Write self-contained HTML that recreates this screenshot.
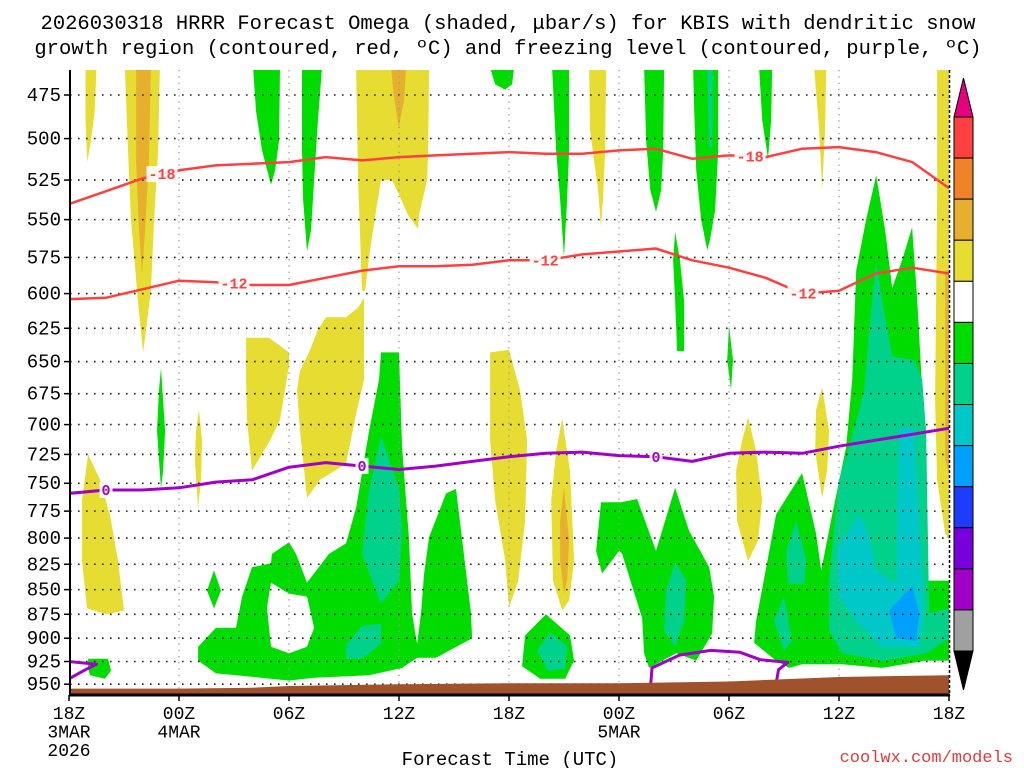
<!DOCTYPE html>
<html><head><meta charset="utf-8"><style>
html,body{margin:0;padding:0;background:#fff;}
svg{display:block;font-family:"Liberation Mono","DejaVu Sans Mono",monospace;}
</style></head><body>
<svg id="chart" width="1024" height="768" viewBox="0 0 1024 768" xmlns="http://www.w3.org/2000/svg">
<defs><clipPath id="plotclip"><rect x="70" y="70" width="879" height="625"/></clipPath></defs>
<text x="508" y="29" font-size="20.5" text-anchor="middle">2026030318 HRRR Forecast Omega (shaded, μbar/s) for KBIS with dendritic snow</text>
<text x="508" y="54" font-size="20.5" text-anchor="middle">growth region (contoured, red, ºC) and freezing level (contoured, purple, ºC)</text>
<g id="shading" clip-path="url(#plotclip)"></g>
<g id="grid"></g>
<g id="contours" clip-path="url(#plotclip)"></g>
<g id="terrain" clip-path="url(#plotclip)"></g>
<g id="axes"></g>
<g id="colorbar"></g>
<text x="510" y="765" font-size="19" text-anchor="middle">Forecast Time (UTC)</text>
<text x="1013" y="762" font-size="17" text-anchor="end" fill="#e03c3c">coolwx.com/models</text>
</svg>
<script>
// ---------- data ----------
const pressureTicks = [475,500,525,550,575,600,625,650,675,700,725,750,775,800,825,850,875,900,925,950];
const hourTicks = [0,6,12,18,24,30,36,42,48];
const hourTickLabels = ["18Z","00Z","06Z","12Z","18Z","00Z","06Z","12Z","18Z"];
const hourTickDates = [["3MAR","2026"],["4MAR"],[],[],[],["5MAR"],[],[],[]];
const lineHours = [0,2,4,6,8,10,12,14,16,18,20,22,24,26,28,30,32,34,36,38,40,42,44,46,48];
const minus18Pressure = [540,532,524,519,516,515,514,511,513,511,510,509,508,509,509,507,506,512,510,511,506,505,508,514,530];
const minus12Pressure = [604,603,597,591,592,594,594,589,584,581,581,580,577,577,573,571,569,577,582,589,600,598,586,582,586];
const zeroPressure = [759,756,756,754,749,747,736,732,735,738,735,731,727,724,723,726,727,731,724,723,724,718,713,708,703];
const minus18Labels = [5.07,37.15];
const minus12Labels = [9.0,25.97,40.04];
const zeroLabels = [2.02,15.98,32.02];
const zeroLoopLeft = [[0,925],[1.5,928],[0.9,934],[0,944]];
const zeroLoopRight = [[31.7,958],[31.8,932],[33.3,918],[35,913],[36.6,915],[37.7,923],[39.2,926],[38.7,934],[38.5,958]];
const surfaceHours = [0,6,10,12,18,24,30,36,42,48];
const surfacePressure = [955,955,954,952,950,949,949,947,942,940];
const cbarLabels = [20,16,12,8,4,-4,-8,-12,-16,-20,-24,-28,-32,-36];
const levelColors = {O:"#e6af2d",Y:"#e6dc32",G:"#00dc00",W:"#ffffff",T:"#00d28c",C:"#00c8c8",B:"#00a0ff"};
const yellowRegions = [
 [[0.9,460],[1.5,460],[1.4,484],[1.2,501],[1.0,514],[0.9,489]],
 [[3.05,460],[4.96,460],[4.86,507],[4.64,550],[4.47,598],[4.2,626],[4.04,643],[3.76,605],[3.38,550],[3.22,507]],
 [[15.66,460],[19.64,460],[19.59,507],[19.53,525],[19.09,547],[19.04,556],[18.49,547],[18.0,534],[17.62,525],[17.02,525],[16.75,544],[16.42,570],[16.15,598],[15.98,598],[15.87,557],[15.77,525],[15.71,489]],
 [[28.37,460],[29.3,460],[29.24,507],[29.13,537],[29.02,555],[28.86,531],[28.42,495]],
 [[40.64,460],[41.3,460],[41.24,495],[41.08,531],[40.92,495]],
 [[47.35,460],[48.1,460],[48.1,805],[47.79,795],[47.35,747],[47.24,680],[47.35,537]],
 [[37.04,694],[37.48,722],[37.81,765],[37.59,802],[37.04,822],[36.44,784],[36.39,739],[36.72,713]],
 [[41.08,670],[41.46,705],[41.35,739],[41.08,763],[40.7,722],[40.75,688]],
 [[26.9,695],[27.33,739],[27.55,821],[27.28,861],[26.9,871],[26.4,841],[26.3,765],[26.57,722]],
 [[22.97,643],[24.0,641],[24.6,672],[24.99,713],[24.88,784],[24.5,841],[24.0,868],[23.79,821],[23.24,765],[22.97,713]],
 [[1.04,725],[1.69,747],[2.24,779],[2.67,821],[3.0,871],[2.07,875],[0.98,869],[0.71,821],[0.71,765]],
 [[7.09,688],[7.26,713],[7.2,747],[7.04,772],[6.87,730],[6.93,705]],
 [[9.66,632],[10.91,632],[12.0,643],[12.0,653],[11.51,696],[10.97,713],[9.98,739],[9.71,696],[9.66,664]],
 [[14.02,617],[15.11,617],[15.77,610],[16.09,603],[16.09,664],[15.66,691],[15.11,733],[13.69,747],[12.98,763],[12.6,705],[12.44,672],[12.6,657],[13.09,643],[13.58,626]]
];
const orangeRegions = [
 [[3.66,460],[4.47,460],[4.36,513],[4.15,557],[3.98,586],[3.82,557],[3.66,513]],
 [[17.57,460],[18.39,460],[18.28,478],[18.06,489],[18.0,494],[17.84,484],[17.68,472]],
 [[47.8,584],[48.1,584],[48.1,747],[47.8,730]],
 [[27.0,754],[27.28,802],[27.17,841],[27.0,854],[26.79,821],[26.79,784]]
];
const greenRegions = [
 [[10.04,460],[11.51,460],[11.46,501],[11.24,519],[11.02,528],[10.53,507],[10.2,484]],
 [[12.71,460],[13.8,460],[13.58,489],[13.37,525],[13.2,557],[12.98,571],[12.77,537],[12.71,507]],
 [[22.97,460],[24.28,460],[24.17,469],[23.79,472],[23.24,469]],
 [[26.35,460],[27.28,460],[27.28,507],[27.17,537],[27.0,575],[26.79,537],[26.57,507]],
 [[31.37,460],[32.46,460],[32.41,507],[32.3,531],[32.02,545],[31.7,531],[31.48,501]],
 [[34.04,460],[35.41,460],[35.41,507],[35.24,544],[34.97,563],[34.81,570],[34.48,550],[34.21,519],[34.1,484]],
 [[37.64,460],[38.35,460],[38.3,489],[38.13,512],[37.81,489]],
 [[33.06,558],[33.33,577],[33.55,605],[33.55,642],[33.17,642],[33.06,605],[32.95,577]],
 [[36.0,623],[36.22,649],[36.11,672],[35.9,649]],
 [[44.03,522],[44.52,557],[44.9,596],[45.44,577],[45.99,555],[46.26,603],[46.54,672],[46.81,841],[48.1,841],[48.1,924],[46.75,924],[44.35,932],[42.17,928],[39.99,928],[39.28,932],[38.57,924],[37.37,905],[37.48,882],[38.03,828],[38.57,778],[39.99,741],[40.75,796],[41.03,831],[41.63,778],[42.39,719],[42.72,664],[42.94,584],[43.48,550]],
 [[26.02,875],[27.33,897],[27.55,924],[27.06,944],[25.7,944],[24.71,930],[24.88,897]],
 [[29.02,767],[30.11,767],[30.99,764],[32.02,812],[33.06,754],[33.82,793],[34.92,828],[35.19,857],[35.08,895],[34.21,924],[33.12,916],[31.64,932],[31.37,916],[31.26,879],[30.17,815],[30.01,812],[29.08,834],[28.75,812]],
 [[5.02,655],[5.24,705],[5.13,739],[5.02,755],[4.8,705],[4.91,672]],
 [[7.04,909],[7.04,924],[8.02,938],[9.11,940],[12.0,946],[13.26,943],[16.37,940],[18.17,932],[18.99,921],[20.02,921],[21.99,900],[21.93,874],[21.28,778],[21.11,755],[20.57,759],[19.64,799],[19.37,834],[19.2,874],[18.99,906],[18.71,874],[18.55,802],[18.17,719],[18.0,643],[17.02,643],[16.91,664],[16.37,705],[15.66,772],[15.11,805],[14.18,815],[12.98,843],[12.38,815],[12.0,804],[11.07,815],[11.02,824],[9.98,828],[9.44,857],[9.11,889],[8.02,889]],
 [[7.91,831],[8.29,851],[7.91,869],[7.53,851]],
 [[1.04,922],[2.13,922],[2.29,935],[1.96,944],[1.15,940],[1.04,933]]
];
const holeRegions = [
 [[11.02,843],[12.0,854],[12.98,857],[13.37,889],[12.98,909],[12.0,916],[11.02,909],[10.8,868]]
];
const tealRegions = [
 [[34.81,460],[35.13,460],[35.08,505],[34.91,505]],
 [[44.03,579],[44.35,605],[44.9,646],[46.1,649],[46.54,664],[46.75,705],[46.92,874],[48.1,869],[48.1,899],[46.75,916],[44.35,924],[42.17,916],[41.46,892],[41.46,841],[42.0,747],[42.72,710],[43.37,672],[43.7,619]],
 [[39.66,784],[40.21,821],[40.1,844],[39.23,844],[39.12,812]],
 [[39.0,857],[39.44,903],[39.0,913],[38.46,882]],
 [[26.24,894],[27.17,908],[27.06,933],[26.13,935],[25.53,913]],
 [[33.06,823],[33.66,841],[33.55,882],[33.06,909],[32.46,892],[32.57,851]],
 [[17.02,710],[18.0,754],[18.17,793],[18.0,841],[17.02,864],[16.53,841],[15.98,815],[16.37,756]],
 [[15.11,907],[15.98,887],[17.02,885],[17.02,906],[15.98,922],[15.11,922]]
];
const cyanRegions = [
 [[43.1,778],[43.64,799],[44.03,831],[45.12,844],[45.28,702],[46.1,703],[46.65,874],[46.38,909],[44.35,909],[42.94,882],[42.0,857],[41.9,809]]
];
const blueRegions = [
 [[44.74,871],[45.99,846],[46.38,874],[46.21,903],[45.12,900]]
];
</script>
<script>
const NS = "http://www.w3.org/2000/svg";
const X0 = 69, PXH = 880/48, Y0 = 95, KP = 850;
function X(h){ return X0 + h*PXH; }
function Y(p){ return Y0 + KP*Math.log(p/475); }
function mk(tag, attrs, parent){ const e=document.createElementNS(NS,tag); for(const k in attrs) e.setAttribute(k,attrs[k]); parent.appendChild(e); return e; }
const shading = document.getElementById('shading');
function drawRegions(list, color, name){
  list.forEach((pts,i)=>{
    const d = pts.map((q,j)=>(j?'L':'M')+X(q[0]).toFixed(1)+','+Y(q[1]).toFixed(1)).join('')+'Z';
    const el = mk('path',{d:d,fill:color},shading);
    
    
  });
}
drawRegions(yellowRegions, levelColors.Y, 'omega-4-8');
drawRegions(orangeRegions, levelColors.O, 'omega-8-12');
drawRegions(greenRegions, levelColors.G, 'omega-neg4-neg8');
drawRegions(holeRegions, levelColors.W, 'omega-gap');
drawRegions(tealRegions, levelColors.T, 'omega-neg8-neg12');
drawRegions(cyanRegions, levelColors.C, 'omega-neg12-neg16');
drawRegions(blueRegions, levelColors.B, 'omega-neg16-neg20');

const grid = document.getElementById('grid');
pressureTicks.forEach(p=>{
  const l = mk('line',{x1:70,x2:949,y1:Y(p),y2:Y(p),stroke:'#222','stroke-width':1.6,'stroke-dasharray':'1.6 6.4'},grid);
  
  
});
hourTicks.forEach((h,i)=>{
  if(i===0||i===hourTicks.length-1) return;
  const l = mk('line',{x1:X(h),x2:X(h),y1:70,y2:695,stroke:'#999','stroke-width':1.3,'stroke-dasharray':'1.3 5'},grid);
  
  
});

const cg = document.getElementById('contours');
function drawLine(vals, color, name, width){
  const d = vals.map((p,i)=>(i?'L':'M')+X(lineHours[i]).toFixed(1)+','+Y(p).toFixed(1)).join('');
  const el = mk('path',{d:d,fill:'none',stroke:color,'stroke-width':width,'stroke-linejoin':'round'},cg);
  
  
}
function interp(vals,h){ for(let i=0;i<lineHours.length-1;i++){ if(h<=lineHours[i+1]){ const t=(h-lineHours[i])/(lineHours[i+1]-lineHours[i]); return vals[i]+t*(vals[i+1]-vals[i]); } } return vals[vals.length-1]; }
function drawLabels(vals, hours, text, color, name){
  hours.forEach((h,i)=>{
    const x=X(h), y=Y(interp(vals,h));
    const w = text.length*9+4;
    const r = mk('rect',{x:x-w/2,y:y-8,width:w,height:16,fill:'#fff','fill-opacity':0.9},cg);
    
    
    const t = mk('text',{x:x,y:y+5,'text-anchor':'middle','font-size':15,'font-weight':'bold',fill:color},cg);
    t.textContent=text;
    
    
  });
}
drawLine(minus18Pressure,'#ff4040','contour-minus18',2.5);
drawLine(minus12Pressure,'#ff4040','contour-minus12',2.5);
drawLine(zeroPressure,'#a000c8','contour-freezing-level',3);
function drawLoop(pts,name){
  const d = pts.map((q,j)=>(j?'L':'M')+X(q[0]).toFixed(1)+','+Y(q[1]).toFixed(1)).join('');
  const el = mk('path',{d:d,fill:'none',stroke:'#a000c8','stroke-width':3,'stroke-linejoin':'round'},cg);
  
  
}
drawLoop(zeroLoopLeft,'freezing-loop-left');
drawLoop(zeroLoopRight,'freezing-loop-right');
drawLabels(minus18Pressure,minus18Labels,'-18','#ff4040','contour-minus18');
drawLabels(minus12Pressure,minus12Labels,'-12','#ff4040','contour-minus12');
drawLabels(zeroPressure,zeroLabels,'0','#a000c8','contour-zero');

const tg = document.getElementById('terrain');
let td = 'M'+X(0)+',700';
surfaceHours.forEach((h,i)=>{ td += 'L'+X(h).toFixed(1)+','+Y(surfacePressure[i]).toFixed(1); });
td += 'L'+X(48)+',700Z';
const terr = mk('path',{d:td,fill:'#a0522d'},tg);



const ax = document.getElementById('axes');
const la = mk('line',{x1:70,x2:70,y1:70,y2:696,stroke:'#000','stroke-width':2},ax);
 
const ba = mk('line',{x1:69,x2:950,y1:695,y2:695,stroke:'#000','stroke-width':3},ax);
 
const ra = mk('line',{x1:949.5,x2:949.5,y1:70,y2:696,stroke:'#000','stroke-width':1.5,'stroke-dasharray':'3 2'},ax);
 
pressureTicks.forEach(p=>{
  const t = mk('text',{x:61,y:Y(p)+6,'text-anchor':'end','font-size':19},ax);
  t.textContent = p;
  
  
  const tk = mk('line',{x1:64,x2:70,y1:Y(p),y2:Y(p),stroke:'#000','stroke-width':1.5},ax);
  
  
});
hourTicks.forEach((h,i)=>{
  const tk = mk('line',{x1:X(h),x2:X(h),y1:695,y2:701,stroke:'#000','stroke-width':1.5},ax);
  
  
  const lines=[hourTickLabels[i]].concat(hourTickDates[i]);
  lines.forEach((s,j)=>{
    const t = mk('text',{x:X(h),y:719+j*18.5,'text-anchor':'middle','font-size':18},ax);
    t.textContent = s;
    
    
  });
});

const cb = document.getElementById('colorbar');
const cbColors = ["#ff4040","#f08228","#e6af2d","#e6dc32","#ffffff","#00dc00","#00d28c","#00c8c8","#00a0ff","#1e3cff","#7800dc","#a000c8","#a0a0a0"];
const cbTop=117, cbStep=(651-117)/13, cbX=954, cbW=19;
const tri1 = mk('path',{d:'M'+cbX+','+cbTop+'L'+(cbX+cbW/2)+',78L'+(cbX+cbW)+','+cbTop+'Z',fill:'#e6007e',stroke:'#000','stroke-width':1},cb);
 
cbColors.forEach((c,i)=>{
  const r = mk('rect',{x:cbX,y:cbTop+i*cbStep,width:cbW,height:cbStep,fill:c,stroke:'#000','stroke-width':1},cb);
  
  
});
const tri2 = mk('path',{d:'M'+cbX+',651L'+(cbX+cbW/2)+',690L'+(cbX+cbW)+',651Z',fill:'#000',stroke:'#000','stroke-width':1},cb);
 
cbLabels.forEach((v,i)=>{
  const t = mk('text',{x:v<0?977:980,y:cbTop+i*cbStep+6,'font-size':17},cb);
  t.textContent = v<0 ? '-'+Math.abs(v) : String(v);
  
  
});
</script>
</body></html>
